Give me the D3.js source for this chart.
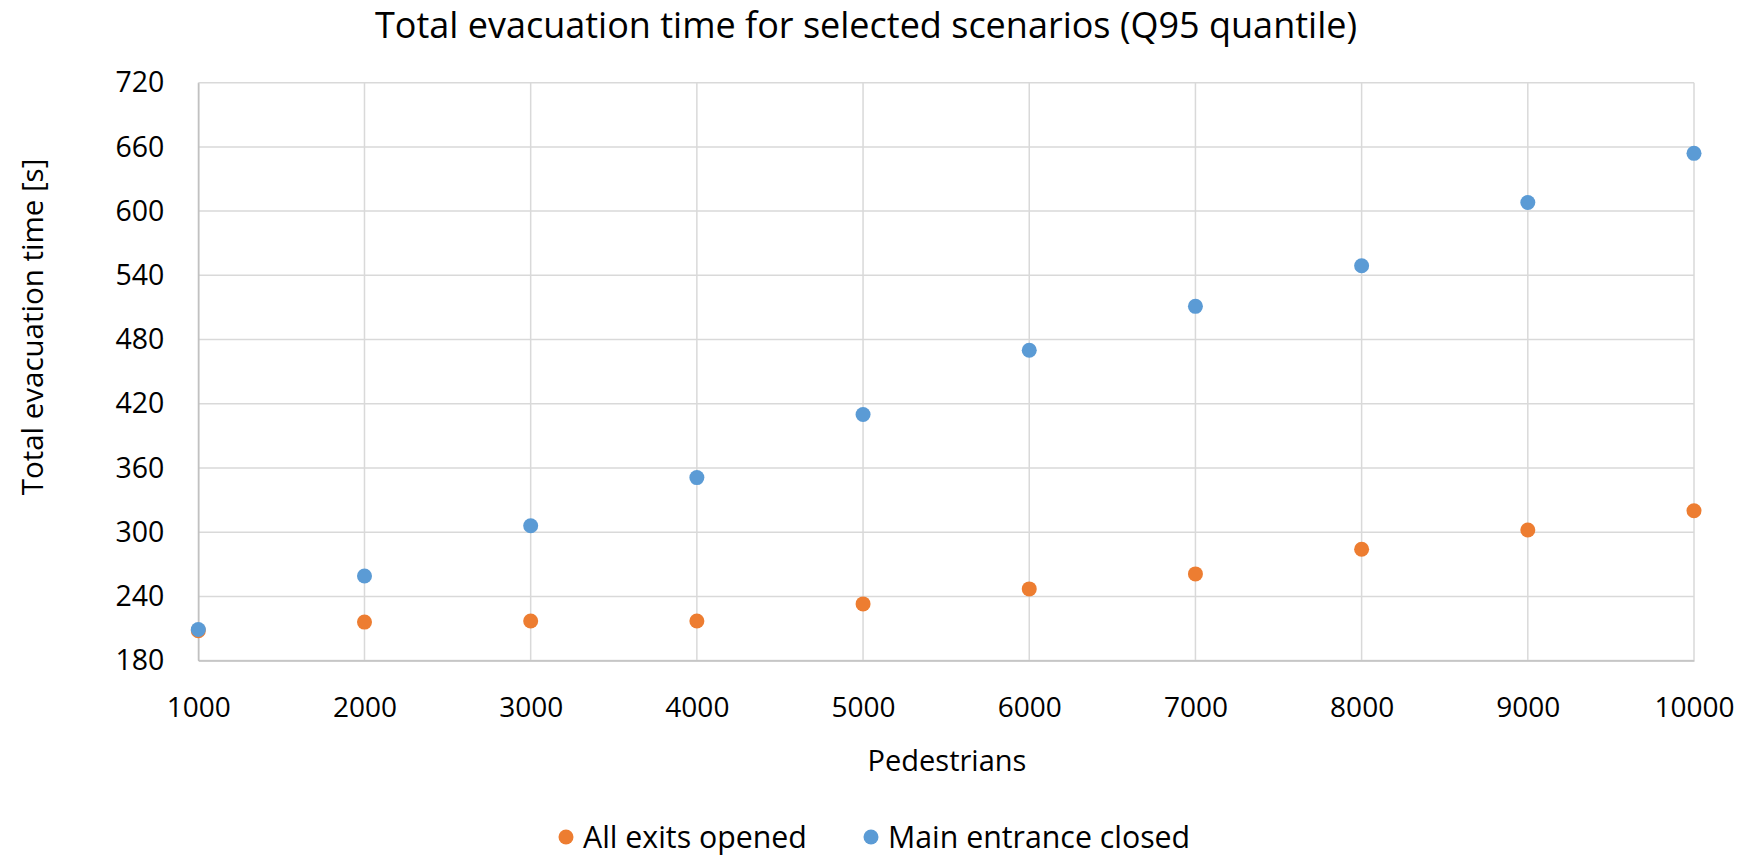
<!DOCTYPE html>
<html lang="en">
  <head>
    <meta charset="UTF-8" />
    <script src="https://d3js.org/d3.v7.min.js"></script>
    <title>Total evacuation time</title>
    <style>
      body { margin: 0; background: #fff; }
      text { font-family: "Open Sans", "Noto Sans", sans-serif; fill: #000; }
    </style>
  </head>
  <body>
    <div id="chart"></div>
    <script>
      var pedestrians = [1000, 2000, 3000, 4000, 5000, 6000, 7000, 8000, 9000, 10000];
      var allExitsOpened = [208, 216, 217, 217, 233, 247, 261, 284, 302, 320];
      var mainEntranceClosed = [209, 259, 306, 351, 410, 470, 511, 549, 608, 654];
      var yTicks = [180, 240, 300, 360, 420, 480, 540, 600, 660, 720];
      var xTicks = [1000, 2000, 3000, 4000, 5000, 6000, 7000, 8000, 9000, 10000];
      var seriesNames = ["All exits opened", "Main entrance closed"];
      var colors = ["#ED7D31", "#5B9BD5"];

      var width = 1755,
        height = 856,
        margin = { top: 82.7, right: 61, bottom: 195.4, left: 198.3 };

      var svg = d3.select("#chart").append("svg")
        .attr("width", width)
        .attr("height", height);

      var x = d3.scaleLinear().domain([1000, 10000])
        .range([margin.left, width - margin.right]);
      var y = d3.scaleLinear().domain([180, 720])
        .range([height - margin.bottom, margin.top]);

      // grid
      svg.append("g").selectAll("line.h").data(yTicks).enter().append("line")
        .attr("x1", margin.left).attr("x2", width - margin.right)
        .attr("y1", function (d) { return y(d); })
        .attr("y2", function (d) { return y(d); })
        .attr("stroke", "#d9d9d9").attr("stroke-width", 1.5);
      svg.append("g").selectAll("line.v").data(xTicks).enter().append("line")
        .attr("y1", margin.top).attr("y2", height - margin.bottom)
        .attr("x1", function (d) { return x(d); })
        .attr("x2", function (d) { return x(d); })
        .attr("stroke", "#d9d9d9").attr("stroke-width", 1.5);

      // axes
      var xAxis = d3.axisBottom(x).tickValues(xTicks).tickSize(0).tickPadding(37)
        .tickFormat(d3.format("d"));
      var gx = svg.append("g")
        .attr("transform", "translate(0," + (height - margin.bottom) + ")")
        .call(xAxis);
      gx.select(".domain").attr("stroke", "#bfbfbf").attr("stroke-width", 1.5);
      gx.selectAll("text").attr("font-size", 28).attr("font-family", null);

      var yAxis = d3.axisLeft(y).tickValues(yTicks).tickSize(0).tickPadding(34)
        .tickFormat(d3.format("d"));
      var gy = svg.append("g")
        .attr("transform", "translate(" + margin.left + ",0)")
        .call(yAxis);
      gy.select(".domain").attr("stroke", "#bfbfbf").attr("stroke-width", 1.5);
      gy.selectAll("text").attr("font-size", 28.5).attr("font-family", null);

      // points
      var series = [allExitsOpened, mainEntranceClosed];
      series.forEach(function (vals, i) {
        svg.append("g").selectAll("circle").data(vals).enter().append("circle")
          .attr("cx", function (d, k) { return x(pedestrians[k]); })
          .attr("cy", function (d) { return y(d); })
          .attr("r", 7.5)
          .attr("fill", colors[i]);
      });

      // titles
      svg.append("text")
        .attr("x", 866).attr("y", 38)
        .attr("text-anchor", "middle")
        .attr("font-size", 36)
        .text("Total evacuation time for selected scenarios (Q95 quantile)");

      svg.append("text")
        .attr("x", 947).attr("y", 771)
        .attr("text-anchor", "middle")
        .attr("font-size", 29)
        .text("Pedestrians");

      svg.append("text")
        .attr("transform", "translate(43,327) rotate(-90)")
        .attr("text-anchor", "middle")
        .attr("font-size", 29.5)
        .text("Total evacuation time [s]");

      // legend
      var legendX = [566, 871];
      var legend = svg.append("g").selectAll("g").data(seriesNames).enter().append("g")
        .attr("transform", function (d, i) { return "translate(" + legendX[i] + ",837)"; });
      legend.append("circle").attr("r", 7.5)
        .attr("fill", function (d, i) { return colors[i]; });
      legend.append("text").attr("x", 17).attr("y", 10.5)
        .attr("font-size", 30.3)
        .text(function (d) { return d; });
    </script>
  </body>
</html>
